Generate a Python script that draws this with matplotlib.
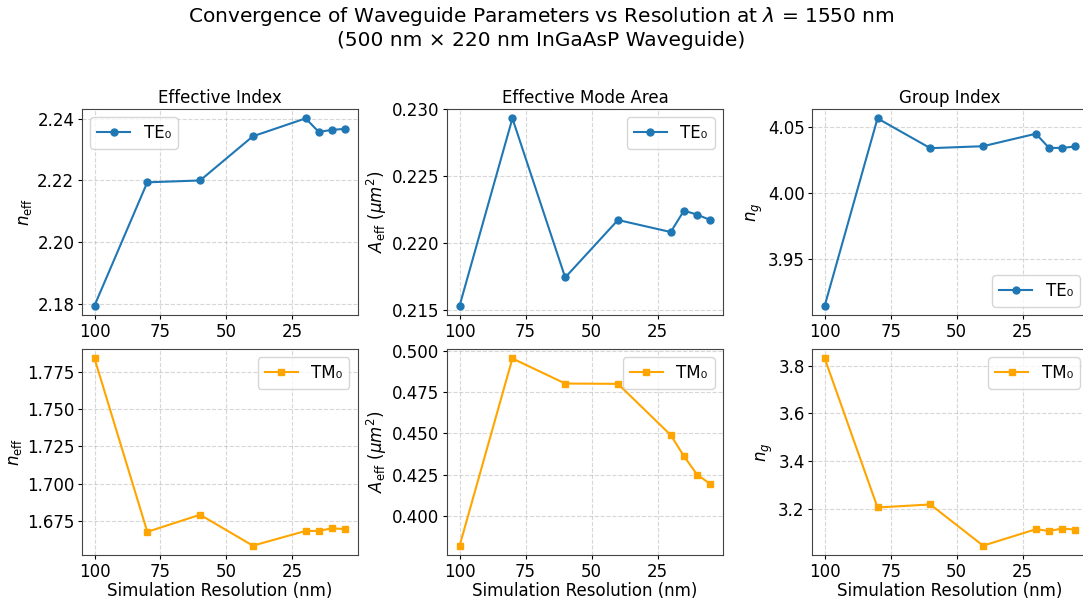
import numpy as np
import matplotlib.pyplot as plt

# resolution sweep (nm)
resolution = [100, 80, 60, 40, 20, 15, 10, 5]

neff_te = [2.1795, 2.2194, 2.2200, 2.2343, 2.2401, 2.2357, 2.2364, 2.2367]
neff_tm = [1.7842, 1.6676, 1.6791, 1.6583, 1.6682, 1.6682, 1.6700, 1.6694]

aeff_te = [0.2153, 0.2293, 0.2174, 0.2217, 0.2208, 0.2224, 0.2221, 0.2217]
aeff_tm = [0.3819, 0.4955, 0.4803, 0.4801, 0.4490, 0.4362, 0.4250, 0.4193]

ng_te = [3.9143, 4.0569, 4.0342, 4.0357, 4.0452, 4.0344, 4.0344, 4.0355]
ng_tm = [3.8309, 3.2056, 3.2183, 3.0454, 3.1143, 3.1073, 3.1171, 3.1129]

plt.rcParams['font.size'] = 12
plt.rcParams['xtick.major.size'] = 3
plt.rcParams['ytick.major.size'] = 3
plt.rcParams['xtick.major.pad'] = 2.5
plt.rcParams['ytick.major.pad'] = 2.5
plt.rcParams['axes.labelpad'] = 2

fig, axes = plt.subplots(2, 3, figsize=(10.83, 6.01), dpi=100)
fig.subplots_adjust(left=0.0757, right=1.0046, top=0.8186, bottom=0.0765,
                    wspace=0.324, hspace=0.166)

titles = ['Effective Index', 'Effective Mode Area', 'Group Index']
ylabels = [r'$n_{\mathrm{eff}}$', r'$A_{\mathrm{eff}}\ (\mu m^2)$', r'$n_g$']
te_data = [neff_te, aeff_te, ng_te]
tm_data = [neff_tm, aeff_tm, ng_tm]
te_loc = ['upper left', 'upper right', 'lower right']

for j in range(3):
    ax = axes[0, j]
    ax.plot(resolution, te_data[j], '-o', color='tab:blue', lw=1.5, ms=5, label='TE₀')
    ax.set_title(titles[j], fontsize=12, pad=4)
    ax.set_ylabel(ylabels[j])
    ax.legend(loc=te_loc[j])

    ax = axes[1, j]
    ax.plot(resolution, tm_data[j], '-s', color='orange', lw=1.5, ms=5, label='TM₀')
    ax.set_xlabel('Simulation Resolution (nm)', labelpad=1)
    ax.set_ylabel(ylabels[j])
    ax.legend(loc='upper right')

for ax in axes.flat:
    ax.invert_xaxis()
    ax.set_xticks([100, 75, 50, 25])
    ax.grid(True, ls='--', alpha=0.5)
    for s in ax.spines.values():
        s.set_color('#444444')

fig.suptitle('Convergence of Waveguide Parameters vs Resolution at $\\lambda$ = 1550 nm\n'
             '(500 nm × 220 nm InGaAsP Waveguide)', fontsize=14.5, y=0.992)

plt.savefig('out.png', dpi=100)
